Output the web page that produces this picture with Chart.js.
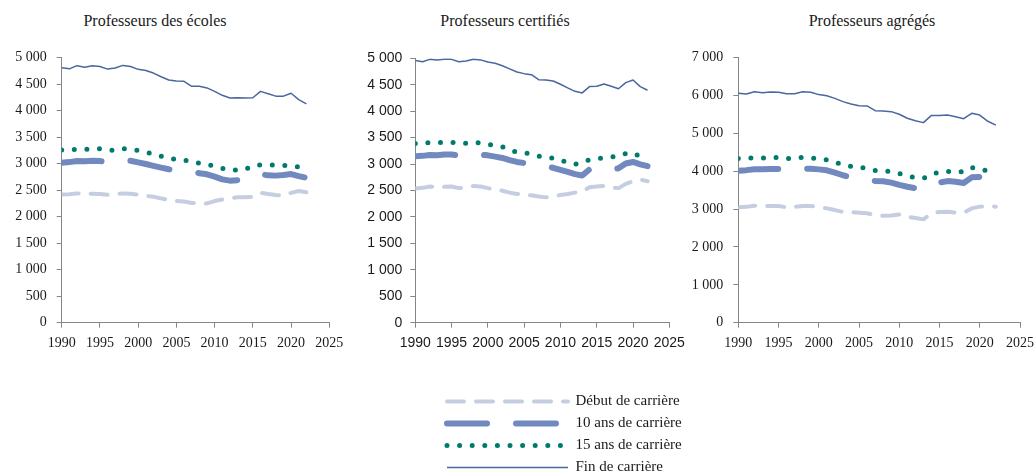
<!DOCTYPE html>
<html lang="fr">
<head>
<meta charset="utf-8">
<title>Rémunération des enseignants</title>
<script src="https://cdn.jsdelivr.net/npm/chart.js@4.4.1/dist/chart.umd.min.js"></script>
<style>
  html, body { margin: 0; padding: 0; background: #fff; }
  #page { position: relative; width: 1035px; height: 473px; overflow: hidden; }
  canvas { position: absolute; }
  .title {
    position: absolute; top: 12px; line-height: 18px;
    font-family: 'Liberation Serif', serif; font-size: 16px; color: #1a1a1a;
    transform: translateX(-50%); white-space: nowrap;
  }
</style>
</head>
<body>
<div id="page">
  <div class="title" style="left:155px">Professeurs des écoles</div>
  <div class="title" style="left:505px">Professeurs certifiés</div>
  <div class="title" style="left:872px">Professeurs agrégés</div>
  <canvas id="ecoles" width="350" height="330" style="left:0px;top:30px"></canvas>
  <canvas id="certifies" width="350" height="330" style="left:340px;top:30px"></canvas>
  <canvas id="agreges" width="355" height="330" style="left:680px;top:30px"></canvas>
  <canvas id="legende" width="600" height="120" style="left:440px;top:387px"></canvas>
</div>
<script>
const years = [1990, 1991, 1992, 1993, 1994, 1995, 1996, 1997, 1998, 1999, 2000,
  2001, 2002, 2003, 2004, 2005, 2006, 2007, 2008, 2009, 2010,
  2011, 2012, 2013, 2014, 2015, 2016, 2017, 2018, 2019, 2020, 2021, 2022];

const seriesLabels = ['Début de carrière', '10 ans de carrière', '15 ans de carrière', 'Fin de carrière'];

// Professeurs des écoles
const debutEcoles = [2420, 2425, 2440, 2435, 2435, 2430, 2415, 2420, 2440, 2435, 2415,
  2395, 2375, 2345, 2315, 2295, 2285, 2260, 2250, 2250, 2295,
  2325, 2345, 2365, 2365, 2375, 2450, 2430, 2410, 2400, 2450, 2485, 2460];
const dixEcoles = [3020, 3030, 3050, 3045, 3057, 3050, 3030, 3040, 3060, 3055, 3025,
  2995, 2960, 2925, 2895, 2875, 2860, 2840, 2820, 2800, 2755,
  2705, 2680, 2690, 2700, 2750, 2805, 2780, 2775, 2785, 2805, 2765, 2735];
const quinzeEcoles = [3260, 3265, 3270, 3270, 3280, 3280, 3255, 3255, 3285, 3260, 3250,
  3220, 3180, 3140, 3100, 3080, 3070, 3030, 3010, 2990, 2950,
  2910, 2880, 2880, 2890, 2960, 2975, 2975, 2975, 2970, 2950, 2940, 2920];
const finEcoles = [4810, 4790, 4850, 4820, 4850, 4835, 4785, 4805, 4855, 4835, 4780,
  4760, 4710, 4640, 4580, 4560, 4555, 4460, 4460, 4430, 4365,
  4290, 4240, 4245, 4240, 4245, 4365, 4320, 4275, 4275, 4330, 4210, 4130];

// Professeurs certifiés
const debutCertifies = [2540, 2550, 2575, 2565, 2570, 2575, 2545, 2560, 2585, 2575, 2545,
  2520, 2495, 2460, 2435, 2420, 2410, 2385, 2370, 2385, 2415,
  2435, 2460, 2480, 2560, 2575, 2585, 2560, 2545, 2625, 2675, 2705, 2675];
const dixCertifies = [3150, 3155, 3170, 3165, 3180, 3180, 3160, 3170, 3180, 3180, 3165,
  3140, 3115, 3075, 3040, 3020, 3010, 2980, 2955, 2930, 2890,
  2850, 2810, 2785, 2900, 2920, 2920, 2900, 2920, 3010, 3040, 2995, 2960];
const quinzeCertifies = [3390, 3400, 3405, 3405, 3410, 3410, 3395, 3395, 3415, 3400, 3375,
  3350, 3325, 3260, 3230, 3220, 3180, 3150, 3140, 3110, 3070,
  3030, 2995, 3040, 3080, 3100, 3120, 3130, 3160, 3200, 3215, 3140, 3100];
const finCertifies = [4960, 4935, 4980, 4970, 4980, 4980, 4935, 4950, 4980, 4970, 4930,
  4905, 4860, 4800, 4740, 4710, 4690, 4595, 4590, 4570, 4510,
  4440, 4375, 4345, 4465, 4470, 4515, 4470, 4425, 4540, 4590, 4465, 4395];

// Professeurs agrégés
const debutAgreges = [3050, 3060, 3090, 3080, 3085, 3080, 3050, 3060, 3085, 3085, 3055,
  3020, 2975, 2925, 2920, 2905, 2890, 2845, 2825, 2830, 2860,
  2800, 2765, 2730, 2890, 2925, 2930, 2905, 2905, 3020, 3065, 3090, 3065];
const dixAgreges = [4015, 4030, 4055, 4055, 4060, 4060, 4050, 4060, 4075, 4065, 4050,
  4025, 3965, 3895, 3840, 3800, 3760, 3745, 3735, 3700, 3640,
  3590, 3550, 3520, 3650, 3700, 3740, 3725, 3690, 3840, 3850, 3790, 3760];
const quinzeAgreges = [4340, 4345, 4350, 4350, 4370, 4360, 4330, 4350, 4365, 4350, 4330,
  4300, 4240, 4170, 4130, 4120, 4060, 4020, 4010, 3990, 3940,
  3870, 3830, 3810, 3920, 3980, 4000, 3975, 3990, 4100, 4070, 4000, 3950];
const finAgreges = [6060, 6040, 6100, 6075, 6095, 6085, 6050, 6050, 6100, 6085, 6025,
  5995, 5925, 5840, 5775, 5730, 5725, 5600, 5590, 5575, 5505,
  5400, 5335, 5285, 5475, 5475, 5485, 5440, 5390, 5530, 5485, 5320, 5220];

const axisColor = '#868686';
const serifFont = { family: "'Liberation Serif', serif", size: 14 };
const sansFont = { family: "'Liberation Sans', sans-serif", size: 14 };

const lineStyles = [
  { borderColor: '#c5cde0', borderWidth: 4, borderDash: [17, 12], borderCapStyle: 'round' },
  { borderColor: '#7189bf', borderWidth: 6, borderDash: [40, 29], borderCapStyle: 'round' },
  { borderColor: '#007a6c', borderWidth: 5, borderDash: [0, 12.6], borderCapStyle: 'round' },
  { borderColor: '#4a679f', borderWidth: 1.5, borderDash: [], borderCapStyle: 'butt' }
];

function formatThousands(value) {
  return String(value).replace(/\B(?=(\d{3})+(?!\d))/g, ' ');
}

function buildDatasets(seriesList) {
  return seriesList.map((values, i) => Object.assign({
    label: seriesLabels[i],
    data: values.map((v, k) => ({ x: years[k], y: v })),
    pointRadius: 0,
    tension: 0,
    fill: false,
    borderJoinStyle: 'round'
  }, lineStyles[i]));
}

function makePanel(id, seriesList, cfg) {
  const ctx = document.getElementById(id).getContext('2d');
  return new Chart(ctx, {
    type: 'line',
    data: { datasets: buildDatasets(seriesList) },
    options: {
      responsive: false,
      animation: false,
      layout: { padding: { top: cfg.top, right: cfg.right, left: 0, bottom: 0 } },
      plugins: { legend: { display: false }, tooltip: { enabled: false } },
      scales: {
        x: {
          type: 'linear',
          min: 1990,
          max: 2025,
          ticks: { stepSize: 5, color: '#1a1a1a', font: cfg.font, padding: 7, maxRotation: 0, callback: v => String(v) },
          grid: { drawOnChartArea: false, drawTicks: true, tickLength: 5, color: axisColor },
          border: { color: axisColor },
          afterFit: function (scale) {
            scale.height = 37.3;
            scale.paddingLeft = 0;
            scale.paddingRight = 0;
          }
        },
        y: {
          min: 0,
          max: cfg.yMax,
          ticks: { stepSize: cfg.yStep, color: '#1a1a1a', font: cfg.font, padding: cfg.yPad, callback: formatThousands },
          grid: { drawOnChartArea: false, drawTicks: true, tickLength: 5, color: axisColor },
          border: { color: axisColor },
          afterFit: function (scale) {
            scale.width = cfg.yWidth;
          }
        }
      }
    }
  });
}

function makeLegend() {
  const ctx = document.getElementById('legende').getContext('2d');
  new Chart(ctx, {
    type: 'line',
    data: { datasets: buildDatasets([[], [], [], []]) },
    options: {
      responsive: false,
      animation: false,
      layout: { padding: 0 },
      scales: { x: { display: false }, y: { display: false } },
      plugins: {
        tooltip: { enabled: false },
        legend: {
          position: 'left',
          align: 'start',
          labels: {
            usePointStyle: true,
            pointStyle: 'line',
            pointStyleWidth: 121,
            boxHeight: 15,
            padding: 7,
            color: '#1a1a1a',
            font: { family: "'Liberation Serif', serif", size: 15 },
            // with point styles the legend reads point options, so put the line dashes back
            generateLabels: function (chart) {
              const items = Chart.defaults.plugins.legend.labels.generateLabels(chart);
              items.forEach(function (item, i) {
                item.lineDash = lineStyles[i].borderDash;
                item.lineCap = lineStyles[i].borderCapStyle;
                item.lineWidth = lineStyles[i].borderWidth;
                item.strokeStyle = lineStyles[i].borderColor;
              });
              return items;
            }
          }
        }
      }
    }
  });
}

makePanel('ecoles', [debutEcoles, dixEcoles, quinzeEcoles, finEcoles],
  { top: 27.7, right: 20.7, yWidth: 61.7, yMax: 5000, yStep: 500, yPad: 10, font: serifFont });
makePanel('certifies', [debutCertifies, dixCertifies, quinzeCertifies, finCertifies],
  { top: 28.3, right: 20.7, yWidth: 75.3, yMax: 5000, yStep: 500, yPad: 8, font: sansFont });
makePanel('agreges', [debutAgreges, dixAgreges, quinzeAgreges, finAgreges],
  { top: 27.7, right: 15, yWidth: 58.3, yMax: 7000, yStep: 1000, yPad: 10, font: serifFont });
makeLegend();
</script>
</body>
</html>
